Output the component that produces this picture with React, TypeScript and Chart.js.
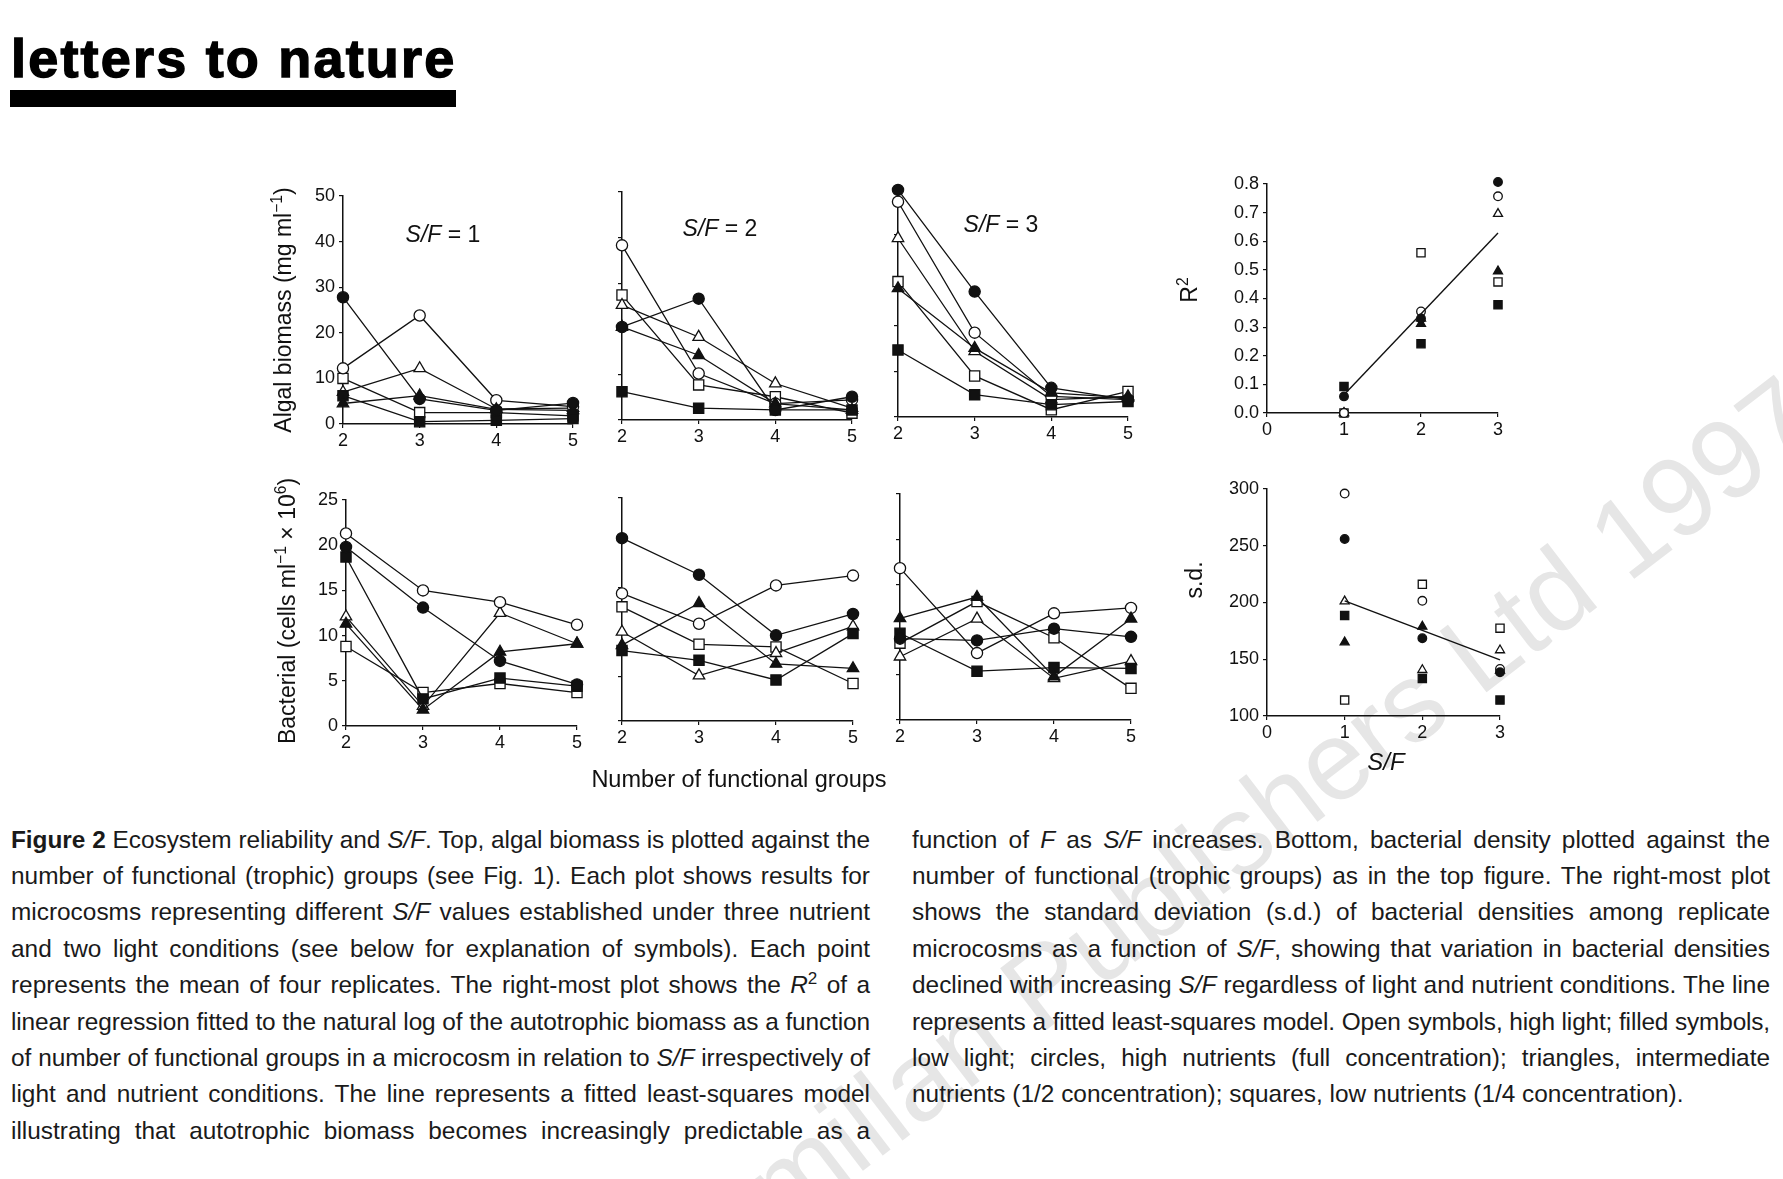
import React, { useEffect, useLayoutEffect, useRef } from 'react';
import { Chart, registerables } from 'chart.js';
Chart.register(...registerables);

// ---------------- DATA ----------------
const groups = [2, 3, 4, 5];
const sfLevels = [1, 2, 3];

// Algal biomass (mg ml-1), S/F = 1
const algal1FilledCircle = [27.8, 5.5, 3.0, 4.6];
const algal1OpenCircle = [12.2, 23.8, 5.2, 3.8];
const algal1FilledTriangle = [4.5, 6.2, 3.2, 3.0];
const algal1OpenTriangle = [7.0, 12.2, 3.3, 3.5];
const algal1FilledSquare = [6.2, 0.5, 0.8, 1.2];
const algal1OpenSquare = [10.0, 2.5, 2.5, 1.8];

// Algal biomass, S/F = 2
const algal2FilledCircle = [20.4, 26.6, 2.2, 5.1];
const algal2OpenCircle = [38.3, 10.2, 3.6, 4.4];
const algal2FilledTriangle = [20.4, 14.2, 3.6, 2.2];
const algal2OpenTriangle = [25.2, 18.2, 8.0, 2.6];
const algal2FilledSquare = [6.2, 2.6, 2.2, 2.2];
const algal2OpenSquare = [27.4, 7.7, 5.1, 1.5];

// Algal biomass, S/F = 3
const algal3FilledCircle = [49.8, 27.5, 6.4, 3.8];
const algal3OpenCircle = [47.2, 18.5, 4.5, 3.8];
const algal3FilledTriangle = [28.2, 15.1, 5.3, 4.2];
const algal3OpenTriangle = [39.2, 14.4, 3.8, 4.5];
const algal3FilledSquare = [14.7, 4.9, 2.7, 3.4];
const algal3OpenSquare = [29.7, 9.0, 1.6, 5.6];

// R2 vs S/F
const r2FilledCircle = [0.058, 0.33, 0.807];
const r2OpenCircle = [0.0, 0.355, 0.757];
const r2FilledTriangle = [0.0, 0.312, 0.495];
const r2OpenTriangle = [0.0, 0.33, 0.696];
const r2FilledSquare = [0.093, 0.242, 0.378];
const r2OpenSquare = [0.0, 0.56, 0.458];
const r2FitX = [1, 3];
const r2FitY = [0.064, 0.629];

// Bacterial density (cells ml-1 x 10^6), S/F = 1
const bact1FilledCircle = [19.8, 13.1, 7.2, 4.6];
const bact1OpenCircle = [21.3, 15.0, 13.7, 11.2];
const bact1FilledTriangle = [11.3, 1.8, 8.2, 9.1];
const bact1OpenTriangle = [12.1, 2.2, 12.5, 9.1];
const bact1FilledSquare = [18.7, 3.0, 5.3, 4.4];
const bact1OpenSquare = [8.8, 3.7, 4.7, 3.7];

// Bacterial, S/F = 2
const bact2FilledCircle = [20.5, 16.4, 9.6, 12.0];
const bact2OpenCircle = [14.3, 10.9, 15.2, 16.3];
const bact2FilledTriangle = [8.5, 13.2, 6.4, 5.9];
const bact2OpenTriangle = [10.0, 5.1, 7.6, 10.6];
const bact2FilledSquare = [7.9, 6.8, 4.6, 9.8];
const bact2OpenSquare = [12.8, 8.6, 8.3, 4.2];

// Bacterial, S/F = 3
const bact3FilledCircle = [9.0, 8.8, 10.1, 9.2];
const bact3OpenCircle = [16.8, 7.4, 11.8, 12.4];
const bact3FilledTriangle = [11.25, 13.6, 4.8, 11.2];
const bact3OpenTriangle = [7.0, 11.2, 4.6, 6.5];
const bact3FilledSquare = [9.6, 5.4, 5.8, 5.7];
const bact3OpenSquare = [8.5, 13.1, 9.1, 3.5];

// s.d. vs S/F
const sdFilledCircle = [256, 168.5, 138.5];
const sdOpenCircle = [296, 201.5, 141.5];
const sdFilledTriangle = [165, 178.8, 140];
const sdOpenTriangle = [201, 140.6, 158];
const sdFilledSquare = [188.5, 133, 114];
const sdOpenSquare = [114, 216, 177.4];
const sdFitX = [1, 3];
const sdFitY = [201.5, 149.4];

// ---------------- STYLE ----------------
const FONT = '"Liberation Sans", Arial, Helvetica, sans-serif';
const INK = '#111';
type Sym = { style: string; filled: boolean };
const FC: Sym = { style: 'circle', filled: true };
const OC: Sym = { style: 'circle', filled: false };
const FT: Sym = { style: 'triangle', filled: true };
const OT: Sym = { style: 'triangle', filled: false };
const FS: Sym = { style: 'rect', filled: true };
const OS: Sym = { style: 'rect', filled: false };

const YW = 70, XH = 40, PT = 16, PR = 18;

function radiusFor(sym: Sym, small: boolean) {
  if (sym.style === 'circle') return small ? 4.3 : 5.6;
  if (sym.style === 'triangle') return small ? 5.2 : 6.6;
  return small ? 5.8 : 7.2;
}

function series(xs: number[], ys: number[], sym: Sym, showLine: boolean, small: boolean) {
  return {
    data: xs.map((x, i) => ({ x, y: ys[i] })),
    showLine,
    borderColor: INK,
    borderWidth: 1.3,
    pointStyle: sym.style,
    pointRadius: radiusFor(sym, small),
    pointBackgroundColor: sym.filled ? INK : '#fff',
    pointBorderColor: INK,
    pointBorderWidth: 1.3,
    fill: false,
    tension: 0,
    clip: false,
  };
}

function fitLine(xs: number[], ys: number[]) {
  return {
    data: xs.map((x, i) => ({ x, y: ys[i] })),
    showLine: true,
    borderColor: INK,
    borderWidth: 1.4,
    pointRadius: 0,
    fill: false,
    tension: 0,
    clip: false,
  };
}

type Spec = {
  L: number; R: number; T: number; B: number;
  xMin: number; xMax: number; yMin: number; yMax: number; yStep: number;
  yLabels: boolean; yFmt?: (v: number) => string; tickSize: number;
  datasets: any[];
};

function Panel({ spec }: { spec: Spec }) {
  const ref = useRef<HTMLCanvasElement | null>(null);
  const L = Math.round(spec.L), T = Math.round(spec.T);
  const aw = Math.round(spec.R - spec.L), ah = Math.round(spec.B - spec.T);
  const W = YW + aw + PR, H = PT + ah + XH;
  useEffect(() => {
    if (!ref.current) return;
    const axisCommon = {
      grid: { display: true, drawOnChartArea: false, drawTicks: true, tickLength: 4, color: INK, lineWidth: 1.2 },
      border: { display: true, color: INK, width: 1.5 },
    };
    const chart = new Chart(ref.current, {
      type: 'line',
      data: { datasets: spec.datasets },
      options: {
        animation: false,
        responsive: false,
        devicePixelRatio: 1,
        layout: { padding: { top: PT, right: PR, left: 0, bottom: 0 } },
        plugins: { legend: { display: false }, tooltip: { enabled: false }, title: { display: false } },
        scales: {
          x: {
            type: 'linear', min: spec.xMin, max: spec.xMax,
            afterFit: (s: any) => { s.height = XH; },
            ticks: { stepSize: 1, color: INK, font: { family: FONT, size: spec.tickSize }, padding: 2, maxRotation: 0, autoSkip: false },
            ...axisCommon,
          },
          y: {
            type: 'linear', min: spec.yMin, max: spec.yMax,
            afterFit: (s: any) => { s.width = YW; },
            ticks: {
              display: spec.yLabels, stepSize: spec.yStep, color: INK,
              font: { family: FONT, size: spec.tickSize }, padding: 4,
              callback: (v: any) => (spec.yFmt ? spec.yFmt(Number(v)) : String(v)),
            },
            ...axisCommon,
          },
        },
      } as any,
    });
    return () => chart.destroy();
  }, []);
  return (
    <canvas
      ref={ref}
      width={W}
      height={H}
      style={{ position: 'absolute', left: L - YW, top: T - PT, width: W, height: H }}
    />
  );
}

const algalPanel = (L: number, R: number, T: number, B: number, yLabels: boolean, d: number[][]): Spec => ({
  L, R, T, B, xMin: 2, xMax: 5, yMin: 0, yMax: 50, yStep: 10, yLabels, tickSize: 18,
  datasets: [
    series(groups, d[0], FC, true, false),
    series(groups, d[1], FT, true, false),
    series(groups, d[2], FS, true, false),
    series(groups, d[3], OC, true, false),
    series(groups, d[4], OT, true, false),
    series(groups, d[5], OS, true, false),
  ],
});
const bactPanel = (L: number, R: number, T: number, B: number, yLabels: boolean, d: number[][]): Spec => ({
  L, R, T, B, xMin: 2, xMax: 5, yMin: 0, yMax: 25, yStep: 5, yLabels, tickSize: 18,
  datasets: [
    series(groups, d[0], FC, true, false),
    series(groups, d[1], FT, true, false),
    series(groups, d[2], FS, true, false),
    series(groups, d[3], OC, true, false),
    series(groups, d[4], OT, true, false),
    series(groups, d[5], OS, true, false),
  ],
});

const SPECS: Spec[] = [
  algalPanel(343, 573, 196, 424, true, [algal1FilledCircle, algal1FilledTriangle, algal1FilledSquare, algal1OpenCircle, algal1OpenTriangle, algal1OpenSquare]),
  algalPanel(622, 852, 192, 420, false, [algal2FilledCircle, algal2FilledTriangle, algal2FilledSquare, algal2OpenCircle, algal2OpenTriangle, algal2OpenSquare]),
  algalPanel(898, 1128, 189, 417, false, [algal3FilledCircle, algal3FilledTriangle, algal3FilledSquare, algal3OpenCircle, algal3OpenTriangle, algal3OpenSquare]),
  {
    L: 1267, R: 1498, T: 184, B: 413, xMin: 0, xMax: 3, yMin: 0, yMax: 0.8, yStep: 0.1, yLabels: true,
    yFmt: (v) => v.toFixed(1), tickSize: 18,
    datasets: [
      fitLine(r2FitX, r2FitY),
      series(sfLevels, r2FilledCircle, FC, false, true),
      series(sfLevels, r2OpenCircle, OC, false, true),
      series(sfLevels, r2FilledTriangle, FT, false, true),
      series(sfLevels, r2OpenTriangle, OT, false, true),
      series(sfLevels, r2FilledSquare, FS, false, true),
      series(sfLevels, r2OpenSquare, OS, false, true),
    ],
  },
  bactPanel(346, 577, 500, 726, true, [bact1FilledCircle, bact1FilledTriangle, bact1FilledSquare, bact1OpenCircle, bact1OpenTriangle, bact1OpenSquare]),
  bactPanel(622, 853, 498, 721, false, [bact2FilledCircle, bact2FilledTriangle, bact2FilledSquare, bact2OpenCircle, bact2OpenTriangle, bact2OpenSquare]),
  bactPanel(900, 1131, 494, 720, false, [bact3FilledCircle, bact3FilledTriangle, bact3FilledSquare, bact3OpenCircle, bact3OpenTriangle, bact3OpenSquare]),
  {
    L: 1267, R: 1500, T: 489, B: 716, xMin: 0, xMax: 3, yMin: 100, yMax: 300, yStep: 50, yLabels: true, tickSize: 18,
    datasets: [
      fitLine(sdFitX, sdFitY),
      series(sfLevels, sdFilledCircle, FC, false, true),
      series(sfLevels, sdOpenCircle, OC, false, true),
      series(sfLevels, sdFilledTriangle, FT, false, true),
      series(sfLevels, sdOpenTriangle, OT, false, true),
      series(sfLevels, sdFilledSquare, FS, false, true),
      series(sfLevels, sdOpenSquare, OS, false, true),
    ],
  },
];

// ---------------- TEXT ----------------
const I = ({ children }: { children: any }) => <i>{children}</i>;

const leftLines: any[] = [
  <><b>Figure 2</b> Ecosystem reliability and <I>S/F</I>. Top, algal biomass is plotted against the</>,
  <>number of functional (trophic) groups (see Fig. 1). Each plot shows results for</>,
  <>microcosms representing different <I>S/F</I> values established under three nutrient</>,
  <>and two light conditions (see below for explanation of symbols). Each point</>,
  <>represents the mean of four replicates. The right-most plot shows the <I>R</I><sup style={{ fontSize: '0.7em', lineHeight: 0 }}>2</sup> of a</>,
  <>linear regression fitted to the natural log of the autotrophic biomass as a function</>,
  <>of number of functional groups in a microcosm in relation to <I>S/F</I> irrespectively of</>,
  <>light and nutrient conditions. The line represents a fitted least-squares model</>,
  <>illustrating that autotrophic biomass becomes increasingly predictable as a</>,
];
const rightLines: any[] = [
  <>function of <I>F</I> as <I>S/F</I> increases. Bottom, bacterial density plotted against the</>,
  <>number of functional (trophic groups) as in the top figure. The right-most plot</>,
  <>shows the standard deviation (s.d.) of bacterial densities among replicate</>,
  <>microcosms as a function of <I>S/F</I>, showing that variation in bacterial densities</>,
  <>declined with increasing <I>S/F</I> regardless of light and nutrient conditions. The line</>,
  <>represents a fitted least-squares model. Open symbols, high light; filled symbols,</>,
  <>low light; circles, high nutrients (full concentration); triangles, intermediate</>,
  <>nutrients (1/2 concentration); squares, low nutrients (1/4 concentration).</>,
];

const CAP_FS = 24.4;
const CAP_LH = 36.4;
const CAP_TOP = 824.5;

function CaptionLine({ children, left, top, width, justify }: any) {
  const ref = useRef<HTMLDivElement | null>(null);
  useLayoutEffect(() => {
    const el = ref.current;
    if (!el) return;
    el.style.letterSpacing = '0px';
    const over = el.scrollWidth - el.clientWidth;
    if (over > 0) {
      const n = (el.textContent || '').length || 1;
      el.style.letterSpacing = `${-(over + 2) / n}px`;
    }
  }, []);
  return (
    <div
      ref={ref}
      style={{
        position: 'absolute', left, top, width,
        fontFamily: FONT, fontSize: CAP_FS, lineHeight: '30px', color: '#1a1a1a',
        whiteSpace: 'nowrap', textAlign: justify ? 'justify' : 'left',
        textAlignLast: justify ? 'justify' : 'left',
      } as any}
    >
      {children}
    </div>
  );
}

function CaptionColumn({ lines, left, width, lastJustified }: { lines: any[]; left: number; width: number; lastJustified: boolean }) {
  return (
    <>
      {lines.map((ln, i) => (
        <CaptionLine
          key={i}
          left={left}
          top={CAP_TOP + i * CAP_LH}
          width={width}
          justify={i < lines.length - 1 || lastJustified}
        >
          {ln}
        </CaptionLine>
      ))}
    </>
  );
}

function Label({ x, y, size, rotate, italic, children }: any) {
  return (
    <div
      style={{
        position: 'absolute', left: x, top: y, fontFamily: FONT, fontSize: size, lineHeight: 1,
        color: INK, whiteSpace: 'nowrap', fontStyle: italic ? 'italic' : 'normal',
        transform: `translate(-50%, -50%)${rotate ? ' rotate(-90deg)' : ''}`,
      }}
    >
      {children}
    </div>
  );
}

const supStyle = { fontSize: '0.68em', verticalAlign: '0.55em', lineHeight: 0 } as any;

export default function App() {
  return (
    <div style={{ position: 'fixed', left: 0, top: 0, width: 1783, height: 1179, background: '#fff', overflow: 'hidden' }}>
      <svg width={1783} height={1179} style={{ position: 'absolute', left: 0, top: 0 }}>
        <text
          x={525} y={1430} transform="rotate(-37.5 525 1430)"
          fontSize={112} fill="#e6e6e6" fontFamily={FONT}
        >
          © Macmillan Publishers Ltd 1997
        </text>
      </svg>

      <div
        style={{
          position: 'absolute', left: 11, top: 31, fontFamily: FONT, fontWeight: 'bold', fontSize: 54,
          lineHeight: '54px', letterSpacing: 2.2, color: '#000', whiteSpace: 'nowrap',
          WebkitTextStroke: '1.4px #000',
        } as any}
      >
        letters to nature
      </div>
      <div style={{ position: 'absolute', left: 10, top: 90, width: 446, height: 17, background: '#000' }} />

      {SPECS.map((s, i) => <Panel key={i} spec={s} />)}

      <Label x={443} y={234} size={23}><i>S/F</i> = 1</Label>
      <Label x={720} y={228} size={23}><i>S/F</i> = 2</Label>
      <Label x={1001} y={224} size={23}><i>S/F</i> = 3</Label>

      <Label x={283} y={310} size={23} rotate>Algal biomass (mg ml<span style={supStyle}>−1</span>)</Label>
      <Label x={287} y={611} size={23} rotate>Bacterial (cells ml<span style={supStyle}>−1</span> × 10<span style={supStyle}>6</span>)</Label>
      <Label x={1189} y={290} size={23} rotate>R<span style={supStyle}>2</span></Label>
      <Label x={1194} y={580} size={23} rotate>s.d.</Label>
      <Label x={1386} y={762} size={24} italic>S/F</Label>
      <Label x={739} y={780} size={23.5}>Number of functional groups</Label>

      <CaptionColumn lines={leftLines} left={11} width={859} lastJustified={true} />
      <CaptionColumn lines={rightLines} left={912} width={858} lastJustified={false} />
    </div>
  );
}
